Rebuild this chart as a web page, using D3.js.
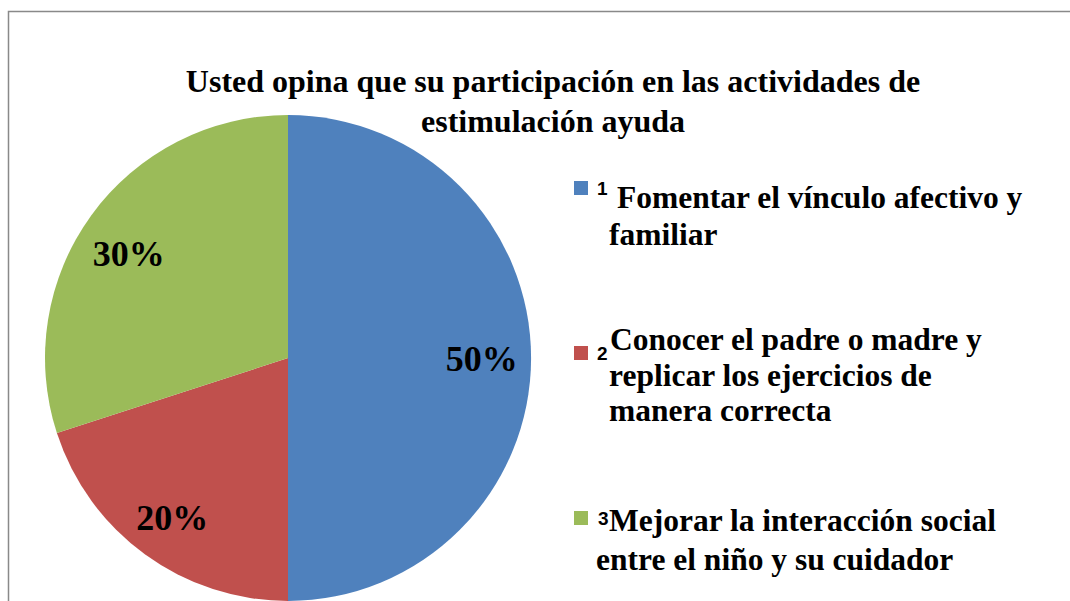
<!DOCTYPE html>
<html><head><meta charset="utf-8">
<script src="https://cdn.jsdelivr.net/npm/d3@7"></script>
<style>
html,body{margin:0;padding:0;background:#fff;}
svg{display:block;}
</style></head>
<body>
<svg id="chart" width="1070" height="601"></svg>
<script>
// ---- data ----
const titleLines = ["Usted opina que su participación en las actividades de", "estimulación ayuda"];
const categories = ["1", "2", "3"];
const labelLines = [
  ["Fomentar el vínculo afectivo y", "familiar"],
  ["Conocer el padre o madre y", "replicar los ejercicios de", "manera correcta"],
  ["Mejorar la interacción social", "entre el niño y su cuidador"]
];
const values = [50, 20, 30];
const colors = ["#4F81BD", "#C0504D", "#9BBB59"];

// ---- layout ----
const W = 1070, H = 601;
const cx = 288, cy = 358, R = 243;
const serif = "Liberation Serif";
const sans = "Liberation Sans";
const labelShift = [[-3, 0], [0, 0], [0, 11]];

const svg = d3.select("#chart");

svg.append("rect").attr("x", 8.5).attr("y", 11.5).attr("width", W + 10).attr("height", H + 10)
  .attr("fill", "#fff").attr("stroke", "#898989").attr("stroke-width", 1.5);

// title
const title = svg.append("text").style("font-family", serif).attr("font-weight", "bold")
  .attr("font-size", 32).attr("text-anchor", "middle").attr("fill", "#000");
titleLines.forEach((t, i) => title.append("tspan").attr("x", 553).attr("y", 92 + i * 40).text(t));

// pie
const pie = d3.pie().sort(null).value(d => d);
const arcs = pie(values);
const arc = d3.arc().innerRadius(0).outerRadius(R);
const labelArc = d3.arc().innerRadius(R * 0.81).outerRadius(R * 0.81);
const total = d3.sum(values);
const g = svg.append("g").attr("transform", `translate(${cx},${cy})`);
g.selectAll("path").data(arcs).join("path")
  .attr("d", arc).attr("fill", (d, i) => colors[i]);
g.selectAll("text.pct").data(arcs).join("text").attr("class", "pct")
  .attr("transform", (d, i) => {
    const [x, y] = labelArc.centroid(d);
    return `translate(${x + labelShift[i][0]},${y + labelShift[i][1]})`;
  })
  .attr("text-anchor", "middle").attr("dy", "0.35em")
  .style("font-family", serif).attr("font-weight", "bold").attr("font-size", 36)
  .attr("fill", "#000")
  .text(d => d3.format(".0%")(d.data / total));

// legend
const legLayout = [
  { sq: 181, numX: 597, numY: 195, lines: [{ x: 617, y: 208 }, { x: 609, y: 245 }] },
  { sq: 346, numX: 597, numY: 360, lines: [{ x: 610, y: 350 }, { x: 609, y: 386 }, { x: 609, y: 421 }] },
  { sq: 511, numX: 598, numY: 525, lines: [{ x: 609, y: 531 }, { x: 596, y: 570 }] }
];
const leg = svg.append("g");
categories.forEach((c, i) => {
  const L = legLayout[i];
  leg.append("rect").attr("x", 574).attr("y", L.sq).attr("width", 14).attr("height", 14).attr("fill", colors[i]);
  leg.append("text").attr("x", L.numX).attr("y", L.numY)
    .style("font-family", sans).attr("font-weight", "bold").attr("font-size", 19).attr("fill", "#000").text(c);
  const t = leg.append("text").style("font-family", serif).attr("font-weight", "bold")
    .attr("font-size", 31.5).attr("fill", "#000");
  labelLines[i].forEach((ln, j) => t.append("tspan").attr("x", L.lines[j].x).attr("y", L.lines[j].y).text(ln));
});
</script>
</body></html>
